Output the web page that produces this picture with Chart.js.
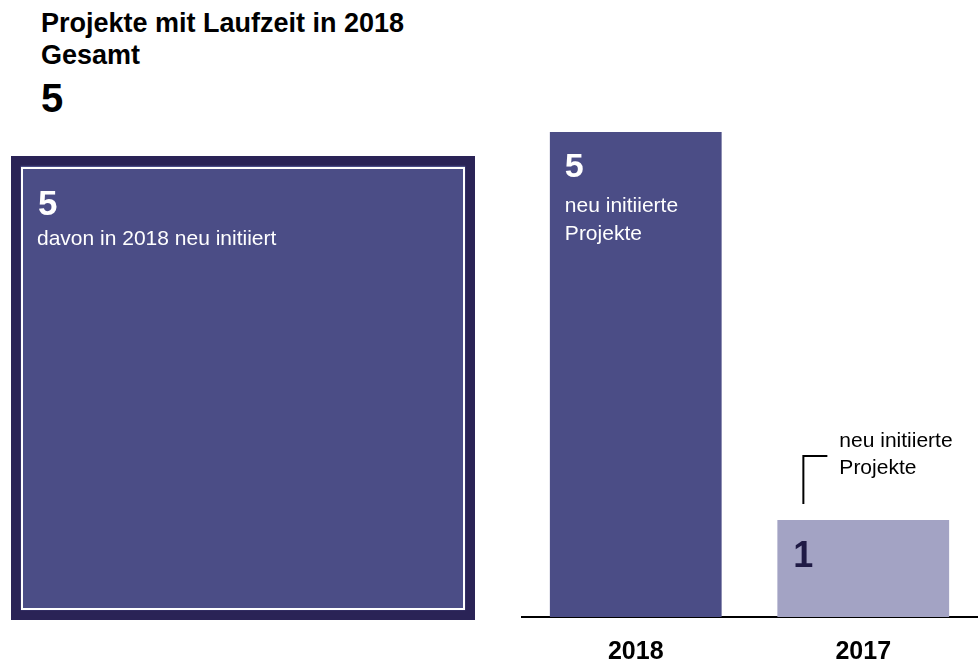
<!DOCTYPE html>
<html lang="de">
  <head>
    <meta charset="UTF-8" />
    <title>Projekte mit Laufzeit in 2018</title>
    <script src="https://cdn.jsdelivr.net/npm/chart.js"></script>
    <style>
      body { margin: 0; background: #fff; font-family: "Liberation Sans", Arial, sans-serif; overflow: hidden; }
      #wrap { position: relative; width: 980px; height: 664px; overflow: hidden; }
      .head { position: absolute; left: 41px; font-weight: bold; color: #000; white-space: nowrap; }
      #totalChartBox { position: absolute; left: 0; top: 0; width: 490px; height: 664px; }
      #yearChartBox { position: absolute; left: 500px; top: 0; width: 480px; height: 687px; }
    </style>
  </head>
  <body>
    <div id="wrap">
      <div class="head" style="top:10px;font-size:27px;line-height:27px">Projekte mit Laufzeit in 2018</div>
      <div class="head" style="top:42px;font-size:27px;line-height:27px">Gesamt</div>
      <div class="head" style="top:78px;font-size:40px;line-height:40px">5</div>
      <div id="totalChartBox"><canvas id="totalChart"></canvas></div>
      <div id="yearChartBox"><canvas id="yearChart"></canvas></div>
    </div>
    <script>
      // data
      const totalLabels = ["Gesamt"];
      const totalValues = [5];
      const newInTotal = [5];
      const years = ["2018", "2017"];
      const newProjects = [5, 1];

      const FONT = '"Liberation Sans", Arial, sans-serif';
      const darkBlue = "#4b4d86";
      const lightBlue = "#a3a3c4";

      // white inner frame + labels for the big square
      const squarePlugin = {
        id: "squareLabels",
        afterDatasetsDraw(chart) {
          const ctx = chart.ctx;
          const bar = chart.getDatasetMeta(0).data[0];
          const left = bar.x - bar.width / 2;
          const top = bar.y;
          const right = bar.x + bar.width / 2;
          const bottom = bar.base;
          ctx.save();
          ctx.strokeStyle = "#ffffff";
          ctx.lineWidth = 2;
          ctx.strokeRect(left + 11, top + 12, right - left - 22, bottom - top - 23);
          ctx.fillStyle = "#ffffff";
          ctx.font = "bold 35px " + FONT;
          ctx.textBaseline = "alphabetic";
          ctx.fillText(String(newInTotal[0]), left + 27, top + 59);
          ctx.font = "21px " + FONT;
          ctx.fillText("davon in 2018 neu initiiert", left + 26, top + 89);
          ctx.restore();
        }
      };

      new Chart(document.getElementById("totalChart"), {
        type: "bar",
        data: {
          labels: totalLabels,
          datasets: [{
            data: totalValues,
            backgroundColor: darkBlue,
            borderColor: "#2a2356",
            borderWidth: 10,
            borderSkipped: false,
            barPercentage: 1,
            categoryPercentage: 1
          }]
        },
        options: {
          responsive: true,
          maintainAspectRatio: false,
          animation: false,
          layout: { padding: { left: 11, right: 15, top: 156, bottom: 44 } },
          plugins: { legend: { display: false }, tooltip: { enabled: false } },
          scales: {
            x: { display: false },
            y: { display: false, min: 0, max: 5 }
          }
        },
        plugins: [squarePlugin]
      });

      // labels inside bars + bracket note above 2017
      const barPlugin = {
        id: "barLabels",
        afterDatasetsDraw(chart) {
          const ctx = chart.ctx;
          const bars = chart.getDatasetMeta(0).data;
          ctx.save();
          ctx.textBaseline = "alphabetic";

          const b0 = bars[0];
          const l0 = b0.x - b0.width / 2;
          ctx.fillStyle = "#ffffff";
          ctx.font = "bold 34px " + FONT;
          ctx.fillText(String(newProjects[0]), l0 + 15, b0.y + 45);
          ctx.font = "21px " + FONT;
          ctx.fillText("neu initiierte", l0 + 15, b0.y + 80);
          ctx.fillText("Projekte", l0 + 15, b0.y + 108);

          const b1 = bars[1];
          const l1 = b1.x - b1.width / 2;
          ctx.fillStyle = "#1f1a45";
          ctx.font = "bold 36px " + FONT;
          ctx.fillText(String(newProjects[1]), l1 + 16, b1.y + 47);

          ctx.strokeStyle = "#000000";
          ctx.lineWidth = 2;
          ctx.beginPath();
          ctx.moveTo(l1 + 26, b1.y - 16);
          ctx.lineTo(l1 + 26, b1.y - 64);
          ctx.lineTo(l1 + 50, b1.y - 64);
          ctx.stroke();
          ctx.fillStyle = "#000000";
          ctx.font = "21px " + FONT;
          ctx.fillText("neu initiierte", l1 + 62, b1.y - 73);
          ctx.fillText("Projekte", l1 + 62, b1.y - 46);
          ctx.restore();
        }
      };

      new Chart(document.getElementById("yearChart"), {
        type: "bar",
        data: {
          labels: years,
          datasets: [{
            data: newProjects,
            backgroundColor: [darkBlue, lightBlue],
            borderWidth: 0,
            barPercentage: 0.755,
            categoryPercentage: 1
          }]
        },
        options: {
          responsive: true,
          maintainAspectRatio: false,
          animation: false,
          layout: { padding: { left: 22, right: 3, top: 132, bottom: 0 } },
          plugins: { legend: { display: false }, tooltip: { enabled: false } },
          scales: {
            x: {
              grid: { display: false, drawTicks: false },
              border: { display: true, color: "#000000", width: 2 },
              ticks: { color: "#000000", padding: 20, font: { family: FONT, size: 25, weight: "bold" } }
            },
            y: { display: false, min: 0, max: 5 }
          }
        },
        plugins: [barPlugin]
      });
    </script>
  </body>
</html>
